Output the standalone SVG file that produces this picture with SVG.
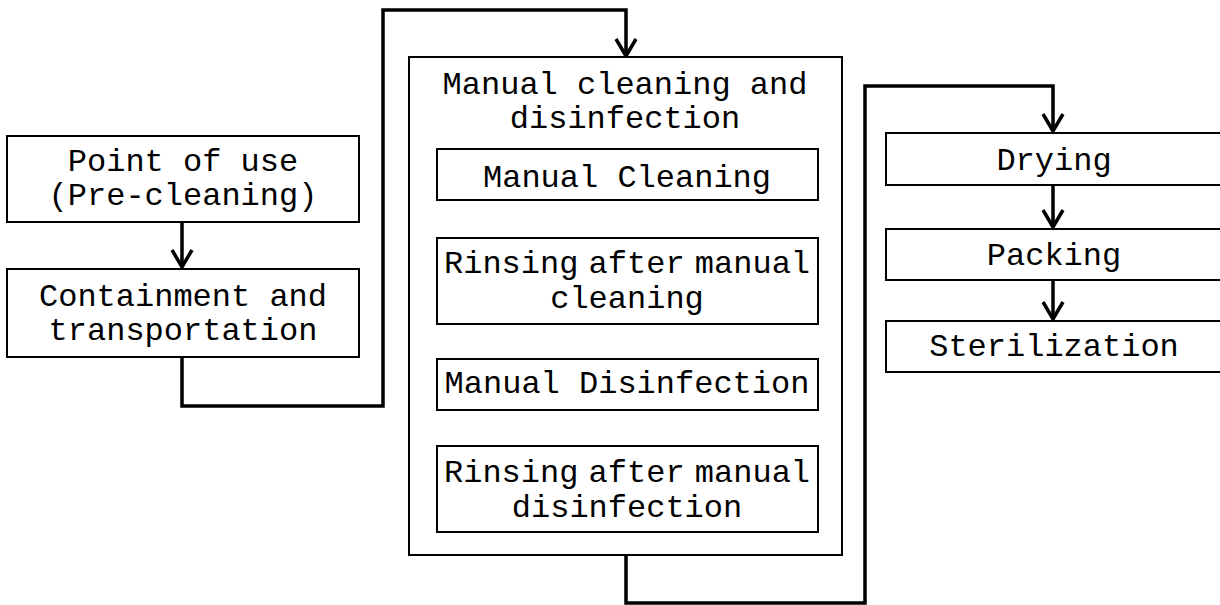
<svg xmlns="http://www.w3.org/2000/svg" width="1220" height="605" viewBox="0 0 1220 605">
<defs>
<style>
.box{fill:#fff;stroke:#000;stroke-width:2}
.t{font-family:"Liberation Mono","Courier New",monospace;font-size:32px;fill:#000;text-anchor:middle}
.ws{word-spacing:-9px}
.c{fill:none;stroke:#000;stroke-width:3.5;stroke-linejoin:miter}
</style>
<marker id="ah" markerUnits="userSpaceOnUse" viewBox="-20 -12 22 24" refX="0" refY="0" markerWidth="22" markerHeight="24" orient="auto" overflow="visible">
<path d="M-17,-10 L0,0 L-17,10" fill="none" stroke="#000" stroke-width="3.5"/>
</marker>
</defs>
<rect width="1220" height="605" fill="#fff"/>
<g id="connectors">
<path class="c" d="M182,222 V267" marker-end="url(#ah)"/>
<path class="c" d="M182,357 V406 H383 V10 H626 V56" marker-end="url(#ah)"/>
<path class="c" d="M626,200 V236" marker-end="url(#ah)"/>
<path class="c" d="M626,324 V357" marker-end="url(#ah)"/>
<path class="c" d="M626,410 V444" marker-end="url(#ah)"/>
<path class="c" d="M626,555 V603 H865 V86 H1053 V131" marker-end="url(#ah)"/>
<path class="c" d="M1053,185 V227" marker-end="url(#ah)"/>
<path class="c" d="M1053,280 V319" marker-end="url(#ah)"/>
</g>
<g id="point-of-use">
<rect class="box" x="7" y="136" width="352" height="86"/>
<text class="t" x="183" y="171">Point of use</text>
<text class="t" x="183" y="205">(Pre-cleaning)</text>
</g>
<g id="containment">
<rect class="box" x="7" y="269" width="352" height="88"/>
<text class="t" x="183" y="306">Containment and</text>
<text class="t" x="183" y="340">transportation</text>
</g>
<g id="manual-group">
<rect class="box" x="409" y="57" width="433" height="498"/>
<text class="t" x="625" y="94">Manual cleaning and</text>
<text class="t" x="625" y="128">disinfection</text>
</g>
<g id="manual-cleaning">
<rect class="box" x="437" y="149" width="381" height="51"/>
<text class="t" x="627" y="187">Manual Cleaning</text>
</g>
<g id="rinse-cleaning">
<rect class="box" x="437" y="238" width="381" height="86"/>
<text class="t ws" x="627" y="273">Rinsing after manual</text>
<text class="t" x="627" y="308">cleaning</text>
</g>
<g id="manual-disinfection">
<rect class="box" x="437" y="359" width="381" height="51"/>
<text class="t" x="627" y="393">Manual Disinfection</text>
</g>
<g id="rinse-disinfection">
<rect class="box" x="437" y="446" width="381" height="86"/>
<text class="t ws" x="627" y="482">Rinsing after manual</text>
<text class="t" x="627" y="517">disinfection</text>
</g>
<g id="drying">
<rect class="box" x="886" y="133" width="336" height="52"/>
<text class="t" x="1054" y="170">Drying</text>
</g>
<g id="packing">
<rect class="box" x="886" y="229" width="336" height="51"/>
<text class="t" x="1054" y="265">Packing</text>
</g>
<g id="sterilization">
<rect class="box" x="886" y="321" width="336" height="51"/>
<text class="t" x="1054" y="356">Sterilization</text>
</g>
</svg>
